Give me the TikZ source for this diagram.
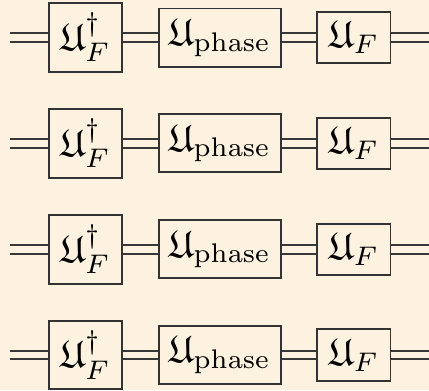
\documentclass[tikz,border=0pt]{standalone}
\usepackage{amssymb}
\usepackage{tikz}
\usepackage{xcolor}
\usetikzlibrary{positioning}
\definecolor{paper}{RGB}{252,242,223}
\definecolor{wiregray}{RGB}{55,55,55}
\newcommand{\fU}{\mathfrak{U}}

\begin{document}
\begin{tikzpicture}[
    x=0.26pt, y=-0.26pt,
    node distance=9pt,
    gate/.style={rectangle,draw=black!80,fill=paper,line width=0.5pt,
      inner sep=1pt,align=center},
    inv/.style={gate,minimum width=19pt,minimum height=17.9pt},
    phase/.style={gate,minimum width=31.8pt,minimum height=15.1pt},
    fwd/.style={gate,minimum width=19pt,minimum height=13.3pt},
    wire/.style={draw=wiregray,line width=0.5pt,double=paper,double distance=1.8pt}
  ]
    \fill[paper] (0,0) rectangle (429,390);
    \useasboundingbox (0,0) rectangle (429,390);

    % row 1
    \node[inv] (invA) at (85.5,37.5) {$\fU_F^\dagger$};
    \node[phase,right=of invA] (phaseA) {$\fU_{\mathrm{phase}}$};
    \node[fwd,right=of phaseA] (fwdA) {$\fU_F$};
    \coordinate (inA) at (10,37.5);
    \coordinate (outA) at (432,37.5);
    % row 2
    \node[inv] (invB) at (85.5,143.3) {$\fU_F^\dagger$};
    \node[phase,right=of invB] (phaseB) {$\fU_{\mathrm{phase}}$};
    \node[fwd,right=of phaseB] (fwdB) {$\fU_F$};
    \coordinate (inB) at (10,143.3);
    \coordinate (outB) at (432,143.3);
    % row 3
    \node[inv] (invC) at (85.5,249.2) {$\fU_F^\dagger$};
    \node[phase,right=of invC] (phaseC) {$\fU_{\mathrm{phase}}$};
    \node[fwd,right=of phaseC] (fwdC) {$\fU_F$};
    \coordinate (inC) at (10,249.2);
    \coordinate (outC) at (432,249.2);
    % row 4
    \node[inv] (invD) at (85.5,355) {$\fU_F^\dagger$};
    \node[phase,right=of invD] (phaseD) {$\fU_{\mathrm{phase}}$};
    \node[fwd,right=of phaseD] (fwdD) {$\fU_F$};
    \coordinate (inD) at (10,355);
    \coordinate (outD) at (432,355);

    \draw[wire] (inA) -- (invA);
    \draw[wire] (invA) -- (phaseA);
    \draw[wire] (phaseA) -- (fwdA);
    \draw[wire] (fwdA) -- (outA);
    \draw[wire] (inB) -- (invB);
    \draw[wire] (invB) -- (phaseB);
    \draw[wire] (phaseB) -- (fwdB);
    \draw[wire] (fwdB) -- (outB);
    \draw[wire] (inC) -- (invC);
    \draw[wire] (invC) -- (phaseC);
    \draw[wire] (phaseC) -- (fwdC);
    \draw[wire] (fwdC) -- (outC);
    \draw[wire] (inD) -- (invD);
    \draw[wire] (invD) -- (phaseD);
    \draw[wire] (phaseD) -- (fwdD);
    \draw[wire] (fwdD) -- (outD);
  \end{tikzpicture}
\end{document}
